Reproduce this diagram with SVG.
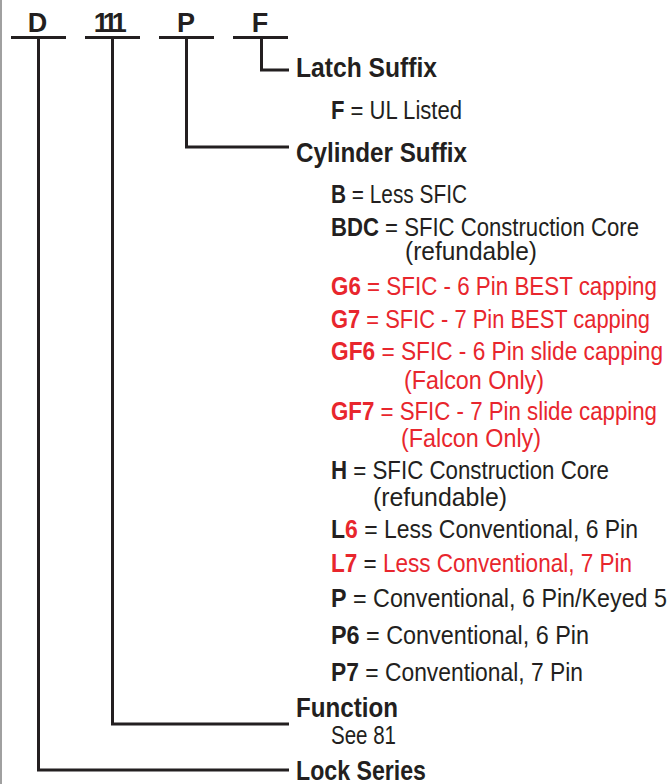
<svg xmlns="http://www.w3.org/2000/svg" width="672" height="784" viewBox="0 0 672 784">
<style>
text{font-family:"Liberation Sans Narrow","Liberation Sans",Arial,sans-serif;font-size:26px;fill:#231f20}
.h{font-weight:bold;font-size:27px}
.b{font-weight:bold}
.t{font-weight:bold;font-size:27px}
.r{fill:#e8262d}
.ln{stroke:#231f20;stroke-width:3;fill:none}
</style>
<rect x="0" y="0" width="672" height="784" fill="#ffffff"/>
<line x1="1" y1="0" x2="1" y2="784" stroke="#a0a0a0" stroke-width="2"/>
<g id="connectors">
<path class="ln" d="M11 37.5H66M38.5 37.5V770H289"/>
<path class="ln" d="M85 37.5H140M112.5 37.5V724H289"/>
<path class="ln" d="M159 37.5H214M186.5 37.5V147H289"/>
<path class="ln" d="M233 37.5H288M261.5 37.5V70H289"/>
</g>
<g id="code">
<text class="h" x="37.5" y="32" text-anchor="middle">D</text>
<text class="h" x="108" y="32" text-anchor="middle" letter-spacing="-4.5">111</text>
<text class="h" x="186" y="32" text-anchor="middle">P</text>
<text class="h" x="260" y="32" text-anchor="middle">F</text>
</g>
<g id="latch">
<text class="t" x="296" y="77" textLength="141" lengthAdjust="spacingAndGlyphs">Latch Suffix</text>
<text x="331" y="119" textLength="131" lengthAdjust="spacingAndGlyphs"><tspan class="b">F</tspan> = UL Listed</text>
</g>
<g id="cylinder">
<text class="t" x="296" y="162" textLength="171" lengthAdjust="spacingAndGlyphs">Cylinder Suffix</text>
<text x="331" y="203" textLength="136" lengthAdjust="spacingAndGlyphs"><tspan class="b">B</tspan> = Less SFIC</text>
<text x="331" y="236" textLength="308" lengthAdjust="spacingAndGlyphs"><tspan class="b">BDC</tspan> = SFIC Construction Core</text>
<text x="405" y="260" textLength="132" lengthAdjust="spacingAndGlyphs">(refundable)</text>
<text class="r" x="331" y="295" textLength="326" lengthAdjust="spacingAndGlyphs"><tspan class="b">G6</tspan> = SFIC - 6 Pin BEST capping</text>
<text class="r" x="331" y="328" textLength="319" lengthAdjust="spacingAndGlyphs"><tspan class="b">G7</tspan> = SFIC - 7 Pin BEST capping</text>
<text class="r" x="331" y="360" textLength="332" lengthAdjust="spacingAndGlyphs"><tspan class="b">GF6</tspan> = SFIC - 6 Pin slide capping</text>
<text class="r" x="404" y="389" textLength="140" lengthAdjust="spacingAndGlyphs">(Falcon Only)</text>
<text class="r" x="331" y="420" textLength="326" lengthAdjust="spacingAndGlyphs"><tspan class="b">GF7</tspan> = SFIC - 7 Pin slide capping</text>
<text class="r" x="401" y="447" textLength="140" lengthAdjust="spacingAndGlyphs">(Falcon Only)</text>
<text x="331" y="479" textLength="278" lengthAdjust="spacingAndGlyphs"><tspan class="b">H</tspan> = SFIC Construction Core</text>
<text x="373" y="506" textLength="134" lengthAdjust="spacingAndGlyphs">(refundable)</text>
<text x="331" y="538" textLength="307" lengthAdjust="spacingAndGlyphs"><tspan class="b">L</tspan><tspan class="b r">6</tspan> = Less Conventional, 6 Pin</text>
<text x="331" y="572" textLength="301" lengthAdjust="spacingAndGlyphs"><tspan class="b r">L7</tspan> = <tspan class="r">Less Conventional, 7 Pin</tspan></text>
<text x="331" y="607" textLength="336" lengthAdjust="spacingAndGlyphs"><tspan class="b">P</tspan> = Conventional, 6 Pin/Keyed 5</text>
<text x="331" y="644" textLength="258" lengthAdjust="spacingAndGlyphs"><tspan class="b">P6</tspan> = Conventional, 6 Pin</text>
<text x="331" y="681" textLength="252" lengthAdjust="spacingAndGlyphs"><tspan class="b">P7</tspan> = Conventional, 7 Pin</text>
</g>
<g id="function">
<text class="t" x="296" y="717" textLength="102" lengthAdjust="spacingAndGlyphs">Function</text>
<text x="331" y="744" textLength="65" lengthAdjust="spacingAndGlyphs">See 81</text>
</g>
<g id="lockseries">
<text class="t" x="296" y="780" textLength="130" lengthAdjust="spacingAndGlyphs">Lock Series</text>
</g>
</svg>
